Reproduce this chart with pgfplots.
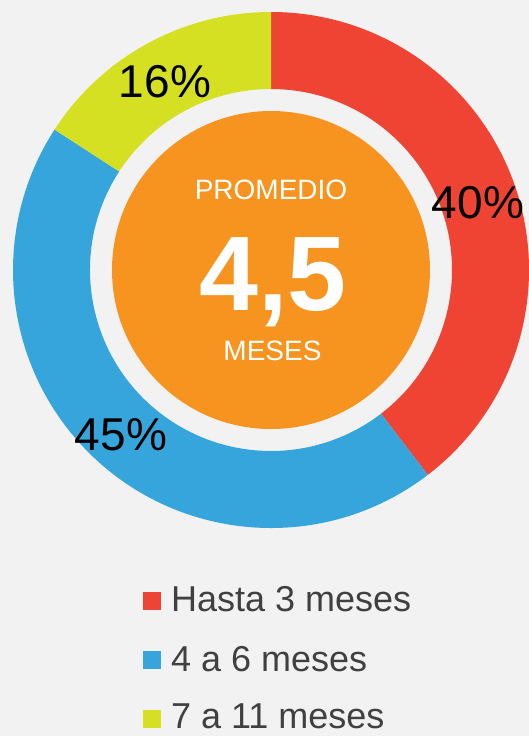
\documentclass[border=0pt]{standalone}
\usepackage{pgfplots}
\pgfplotsset{compat=1.18}
\usepackage{pgfplotstable}
\usepackage{fontspec}
\setmainfont{Liberation Sans}
\definecolor{bg}{HTML}{F2F2F2}
\definecolor{cred}{HTML}{EF4433}
\definecolor{cblue}{HTML}{35A5DC}
\definecolor{cyellow}{HTML}{D6E022}
\definecolor{corange}{HTML}{F7941F}
\definecolor{ctext}{HTML}{404040}

\pgfplotstableread{
idx value
0 40
1 45
2 16
}\donutdata

\newcommand\seg[3]{\fill[#1, shift={(axis cs:271,-270)}] (#2:258pt) arc[start angle=#2, end angle=#3, radius=258pt] -- (#3:181pt) arc[start angle=#3, end angle=#2, radius=181pt] -- cycle;}

\begin{document}
\begin{tikzpicture}
\pgfplotstablegetelem{0}{value}\of\donutdata \edef\vA{\pgfplotsretval}
\pgfplotstablegetelem{1}{value}\of\donutdata \edef\vB{\pgfplotsretval}
\pgfplotstablegetelem{2}{value}\of\donutdata \edef\vC{\pgfplotsretval}
\pgfmathsetmacro\total{\vA+\vB+\vC}
\pgfmathsetmacro\aA{90}
\pgfmathsetmacro\aB{90-360*\vA/\total}
\pgfmathsetmacro\aC{\aB-360*\vB/\total}
\pgfmathsetmacro\aD{\aC-360*\vC/\total}
\begin{axis}[hide axis, x=1pt, y=1pt, xmin=0, xmax=529, ymin=-736, ymax=0,
  scale only axis, clip=false, disabledatascaling,
  every node/.append style={inner sep=0pt}]
\fill[bg] (axis cs:0,0) rectangle (axis cs:529,-736);
\coordinate (SW) at (axis cs:0,-736);
\coordinate (NE) at (axis cs:529,0);
\seg{cred}{\aA}{\aB}
\seg{cblue}{\aB}{\aC}
\seg{cyellow}{\aC}{\aD}
\fill[corange] (axis cs:271,-270) circle[radius=159pt];
\node[anchor=base, font=\fontsize{28}{28}\selectfont, text=white] at (axis cs:271,-199.3) {PROMEDIO};
\node[anchor=base, font=\fontsize{106}{106}\selectfont\bfseries, text=white] at (axis cs:273,-310) {4,5};
\node[anchor=base, font=\fontsize{28}{28}\selectfont, text=white] at (axis cs:272.5,-360) {MESES};
\node[anchor=base, font=\fontsize{46}{46}\selectfont, text=black] at (axis cs:165,-97) {16\%};
\node[anchor=base, font=\fontsize{46}{46}\selectfont, text=black] at (axis cs:478,-218) {40\%};
\node[anchor=base, font=\fontsize{46}{46}\selectfont, text=black] at (axis cs:121,-450) {45\%};
\fill[cred] (axis cs:143,-591.5) rectangle (axis cs:161,-609.5);
\fill[cblue] (axis cs:143,-651) rectangle (axis cs:161,-669);
\fill[cyellow] (axis cs:143,-710) rectangle (axis cs:161,-728);
\node[anchor=base west, font=\fontsize{36}{36}\selectfont, text=ctext] at (axis cs:167.5,-611.7) {Hasta 3 meses};
\node[anchor=base west, font=\fontsize{36}{36}\selectfont, text=ctext] at (axis cs:167.5,-671) {4 a 6 meses};
\node[anchor=base west, font=\fontsize{36}{36}\selectfont, text=ctext] at (axis cs:167.5,-728.5) {7 a 11 meses};
\end{axis}
\pgfresetboundingbox
\path[use as bounding box] (SW) rectangle (NE);
\end{tikzpicture}
\end{document}
